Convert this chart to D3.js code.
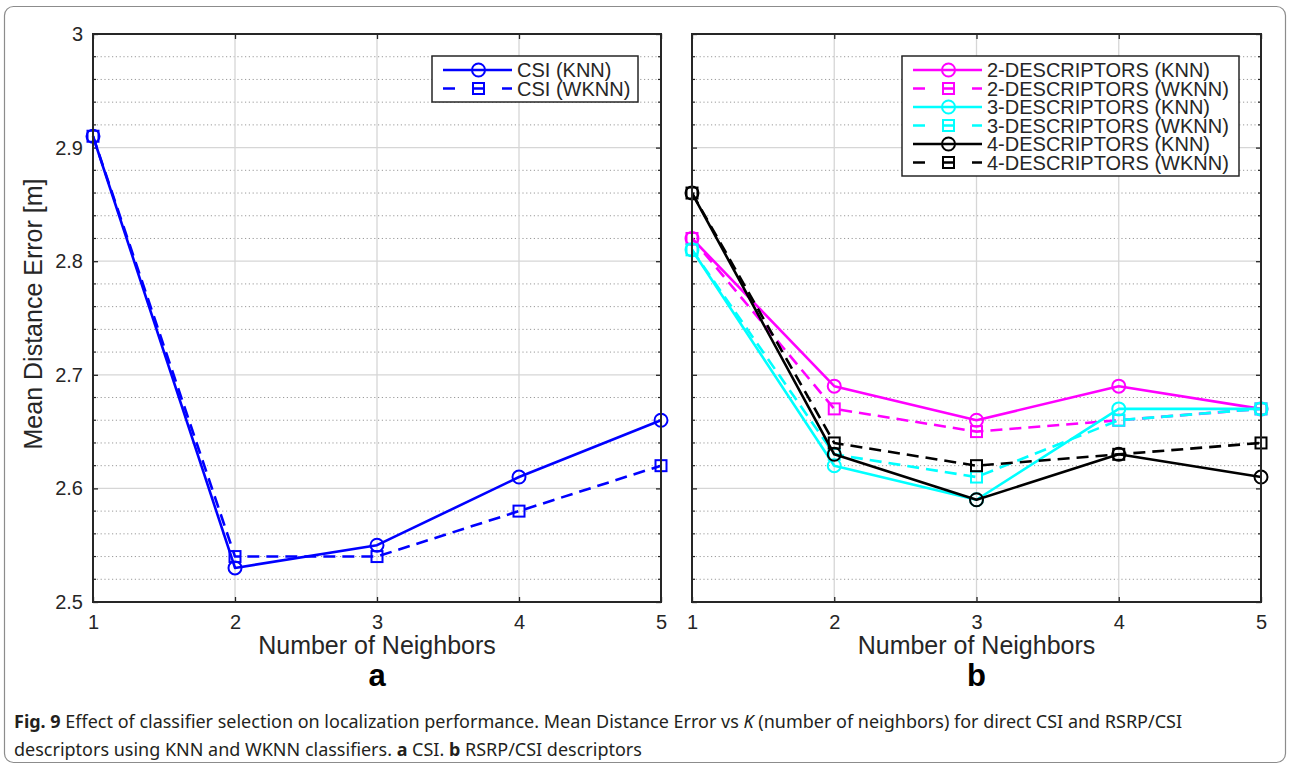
<!DOCTYPE html>
<html>
<head>
<meta charset="utf-8">
<script src="https://cdn.jsdelivr.net/npm/d3@7"></script>
<style>
  body { margin: 0; background: #fff; }
  svg { display: block; }
  text { font-family: "Liberation Sans", Arial, sans-serif; fill: #262626; }
  .caption text { font-family: "Noto Sans", "Open Sans", sans-serif; }
</style>
</head>
<body>
<svg id="chart" width="1290" height="773"></svg>
<script>
// number of neighbours (x axis)
const neighbors = [1, 2, 3, 4, 5];
const yTicks = [2.5, 2.6, 2.7, 2.8, 2.9, 3];

// panel a: direct CSI
const csiKnn  = [2.91, 2.53, 2.55, 2.61, 2.66];
const csiWknn = [2.91, 2.54, 2.54, 2.58, 2.62];

// panel b: RSRP/CSI descriptors
const desc2Knn  = [2.82, 2.69, 2.66, 2.69, 2.67];
const desc2Wknn = [2.82, 2.67, 2.65, 2.66, 2.67];
const desc3Knn  = [2.81, 2.62, 2.59, 2.67, 2.67];
const desc3Wknn = [2.81, 2.63, 2.61, 2.66, 2.67];
const desc4Knn  = [2.86, 2.63, 2.59, 2.63, 2.61];
const desc4Wknn = [2.86, 2.64, 2.62, 2.63, 2.64];

const panelA = [
  { name: 'CSI (KNN)',  values: csiKnn,  color: '#0000ff', dashed: false },
  { name: 'CSI (WKNN)', values: csiWknn, color: '#0000ff', dashed: true }
];
const panelB = [
  { name: '2-DESCRIPTORS (KNN)',  values: desc2Knn,  color: '#ff00ff', dashed: false },
  { name: '2-DESCRIPTORS (WKNN)', values: desc2Wknn, color: '#ff00ff', dashed: true },
  { name: '3-DESCRIPTORS (KNN)',  values: desc3Knn,  color: '#00ffff', dashed: false },
  { name: '3-DESCRIPTORS (WKNN)', values: desc3Wknn, color: '#00ffff', dashed: true },
  { name: '4-DESCRIPTORS (KNN)',  values: desc4Knn,  color: '#000000', dashed: false },
  { name: '4-DESCRIPTORS (WKNN)', values: desc4Wknn, color: '#000000', dashed: true }
];

const svg = d3.select('#chart');
const plotTop = 34, plotBottom = 602;

// outer figure frame
svg.append('rect')
  .attr('x', 4.5).attr('y', 6.5)
  .attr('width', 1281).attr('height', 756)
  .attr('rx', 9)
  .attr('fill', '#fff')
  .attr('stroke', '#8c8c8c')
  .attr('stroke-width', 1.2);

function drawPanel(left, right, series, opts) {
  const x = d3.scaleLinear().domain([1, 5]).range([left, right]);
  const y = d3.scaleLinear().domain([2.5, 3]).range([plotBottom, plotTop]);
  const g = svg.append('g');

  // minor dotted grid (every 0.025)
  const minor = y.ticks(20).filter(v => !yTicks.some(t => Math.abs(t - v) < 1e-9));
  g.append('g').selectAll('line')
    .data(minor)
    .enter().append('line')
    .attr('x1', left).attr('x2', right)
    .attr('y1', d => y(d)).attr('y2', d => y(d))
    .attr('stroke', '#9a9a9a')
    .attr('stroke-width', 1)
    .attr('stroke-dasharray', '1.2,2.6');

  // major solid grid
  g.append('g').selectAll('line')
    .data(yTicks)
    .enter().append('line')
    .attr('x1', left).attr('x2', right)
    .attr('y1', d => y(d)).attr('y2', d => y(d))
    .attr('stroke', '#d6d6d6')
    .attr('stroke-width', 1.3);
  g.append('g').selectAll('line')
    .data(neighbors)
    .enter().append('line')
    .attr('x1', d => x(d)).attr('x2', d => x(d))
    .attr('y1', plotTop).attr('y2', plotBottom)
    .attr('stroke', '#d6d6d6')
    .attr('stroke-width', 1.3);

  // axes (ticks inward)
  const yAxis = d3.axisLeft(y).tickValues(yTicks).tickSize(-5).tickPadding(10)
    .tickFormat(d => opts.yLabels ? String(d) : '');
  const yAxisR = d3.axisRight(y).tickValues(yTicks).tickSize(-5).tickFormat('');
  const xAxis = d3.axisBottom(x).tickValues(neighbors).tickSize(-5).tickPadding(13)
    .tickFormat(d3.format('d'));
  const xAxisT = d3.axisTop(x).tickValues(neighbors).tickSize(-5).tickFormat('');

  [[yAxis, `translate(${left},0)`], [yAxisR, `translate(${right},0)`],
   [xAxis, `translate(0,${plotBottom})`], [xAxisT, `translate(0,${plotTop})`]].forEach(([ax, tr]) => {
    const a = g.append('g').attr('transform', tr).call(ax);
    a.select('.domain').remove();
    a.selectAll('line').attr('stroke', '#262626').attr('stroke-width', 1.3);
    a.selectAll('text')
      .style('font-family', '"Liberation Sans", Arial, sans-serif')
      .style('font-size', '20px')
      .attr('fill', '#262626');
  });

  // minor ticks on both y sides
  g.append('g').selectAll('line')
    .data(minor)
    .enter().append('line')
    .attr('x1', left).attr('x2', left + 3)
    .attr('y1', d => y(d)).attr('y2', d => y(d))
    .attr('stroke', '#262626').attr('stroke-width', 1.2);
  g.append('g').selectAll('line')
    .data(minor)
    .enter().append('line')
    .attr('x1', right).attr('x2', right - 3)
    .attr('y1', d => y(d)).attr('y2', d => y(d))
    .attr('stroke', '#262626').attr('stroke-width', 1.2);

  // series
  const line = d3.line().x((d, i) => x(neighbors[i])).y(d => y(d));
  series.forEach(s => {
    const sg = g.append('g');
    sg.append('path')
      .datum(s.values)
      .attr('d', line)
      .attr('fill', 'none')
      .attr('stroke', s.color)
      .attr('stroke-width', 2.6)
      .attr('stroke-linejoin', 'round')
      .attr('stroke-dasharray', s.dashed ? '12,7' : null);
    if (s.dashed) {
      sg.selectAll('rect')
        .data(s.values)
        .enter().append('rect')
        .attr('x', (d, i) => x(neighbors[i]) - 5.5)
        .attr('y', d => y(d) - 5.5)
        .attr('width', 11).attr('height', 11)
        .attr('fill', 'none')
        .attr('stroke', s.color)
        .attr('stroke-width', 2);
    } else {
      sg.selectAll('circle')
        .data(s.values)
        .enter().append('circle')
        .attr('cx', (d, i) => x(neighbors[i]))
        .attr('cy', d => y(d))
        .attr('r', 6.5)
        .attr('fill', 'none')
        .attr('stroke', s.color)
        .attr('stroke-width', 2);
    }
  });

  // axes box
  g.append('rect')
    .attr('x', left).attr('y', plotTop)
    .attr('width', right - left).attr('height', plotBottom - plotTop)
    .attr('fill', 'none')
    .attr('stroke', '#262626')
    .attr('stroke-width', 2);

  // legend
  const lg = g.append('g');
  const rowH = 18.5;
  lg.append('rect')
    .attr('x', opts.legX).attr('y', 56)
    .attr('width', opts.legW).attr('height', series.length * rowH + 9)
    .attr('fill', '#fff')
    .attr('stroke', '#262626')
    .attr('stroke-width', 1.5);
  series.forEach((s, i) => {
    const cy = 70 + i * rowH;
    const x0 = opts.legX + 11, x1 = x0 + 69, mx = x0 + 35.5;
    lg.append('line')
      .attr('x1', x0).attr('x2', x1).attr('y1', cy).attr('y2', cy)
      .attr('stroke', s.color).attr('stroke-width', 2.6)
      .attr('stroke-dasharray', s.dashed ? '12,17.5' : null);
    if (s.dashed) {
      lg.append('rect').attr('x', mx - 5.5).attr('y', cy - 5.5)
        .attr('width', 11).attr('height', 11)
        .attr('fill', 'none').attr('stroke', s.color).attr('stroke-width', 2);
    } else {
      lg.append('circle').attr('cx', mx).attr('cy', cy).attr('r', 6.5)
        .attr('fill', 'none').attr('stroke', s.color).attr('stroke-width', 2);
    }
    lg.append('text')
      .attr('x', x1 + 5).attr('y', cy + 7)
      .style('font-size', '20px')
      .text(s.name);
  });

  // x label and panel letter
  const cx = (left + right) / 2;
  g.append('text')
    .attr('x', cx).attr('y', 654)
    .attr('text-anchor', 'middle')
    .style('font-size', '25px')
    .text('Number of Neighbors');
  g.append('text')
    .attr('x', cx).attr('y', 686)
    .attr('text-anchor', 'middle')
    .style('font-size', '31px')
    .style('font-weight', 'bold')
    .style('fill', '#000')
    .text(opts.letter);

  if (opts.yLabels) {
    g.append('text')
      .attr('transform', `translate(42,${(plotTop + plotBottom) / 2 - 4}) rotate(-90)`)
      .attr('text-anchor', 'middle')
      .style('font-size', '25px')
      .text('Mean Distance Error [m]');
  }
}

drawPanel(93, 661, panelA, { yLabels: true, letter: 'a', legX: 432, legW: 206 });
drawPanel(692, 1261, panelB, { yLabels: false, letter: 'b', legX: 902, legW: 337 });

// caption
const cap = svg.append('g').attr('class', 'caption');
const l1 = cap.append('text').attr('x', 14).attr('y', 728)
  .style('font-size', '18px').style('fill', '#231f20');
l1.append('tspan').style('font-weight', 'bold').text('Fig. 9');
l1.append('tspan').text(' Effect of classifier selection on localization performance. Mean Distance Error vs ');
l1.append('tspan').style('font-style', 'italic').text('K');
l1.append('tspan').text(' (number of neighbors) for direct CSI and RSRP/CSI');

const l2 = cap.append('text').attr('x', 14).attr('y', 756)
  .style('font-size', '18px').style('fill', '#231f20');
l2.append('tspan').text('descriptors using KNN and WKNN classifiers. ');
l2.append('tspan').style('font-weight', 'bold').text('a');
l2.append('tspan').text(' CSI. ');
l2.append('tspan').style('font-weight', 'bold').text('b');
l2.append('tspan').text(' RSRP/CSI descriptors');

// squeeze caption to the width of the original, keeping glyph height
const capWidth = 1168;
const k = capWidth / l1.node().getComputedTextLength();
l1.attr('textLength', capWidth).attr('lengthAdjust', 'spacingAndGlyphs');
l2.attr('textLength', l2.node().getComputedTextLength() * k).attr('lengthAdjust', 'spacingAndGlyphs');
</script>
</body>
</html>
